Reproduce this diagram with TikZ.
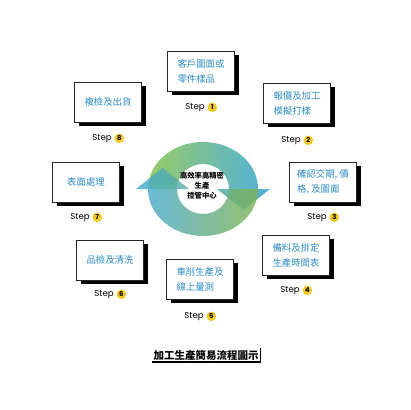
\documentclass[tikz,border=0pt]{standalone}
\usepackage{fontspec}
\newfontfamily\cjk{Noto Sans CJK TC}
\newfontfamily\stepfont{Poppins}
\usetikzlibrary{positioning,shadows}
\definecolor{boxtext}{HTML}{2C8DC4}
\definecolor{ringgreen}{HTML}{8CC657}
\definecolor{ringblue}{HTML}{3EA8D8}
\definecolor{dotyellow}{HTML}{F6C814}
\tikzset{
  stepbox/.style={draw=black!85,line width=0.6pt,fill=white,minimum width=67pt,minimum height=40pt,
    align=left,text=boxtext,font=\cjk\fontsize{9.4}{15}\selectfont,
    general shadow={fill=black,shadow xshift=4pt,shadow yshift=-4pt}},
  stepword/.style={inner sep=0pt,font=\stepfont\fontsize{8.6}{9}\selectfont},
  stepdot/.style={circle,fill=dotyellow,inner sep=0pt,minimum size=9.5pt,font=\stepfont\bfseries\fontsize{6.8}{7}\selectfont},
}
\begin{document}
\begin{tikzpicture}[x=1pt,y=-1pt]
\fill[white] (0,0) rectangle (410,410);
\useasboundingbox (0,0) rectangle (410,410);
\shade[left color=ringgreen,right color=ringblue,opacity=0.9]
  (148,189) arc[start angle=180,end angle=360,x radius=55,y radius=47] -- (270,189) -- (243.5,210) -- (217,189) -- (229,189)
  arc[start angle=360,end angle=180,x radius=26,y radius=25] -- cycle;
\shade[left color=ringblue,right color=ringgreen!90!black,opacity=0.8]
  (258,189) arc[start angle=0,end angle=180,x radius=55,y radius=47] -- (136,189) -- (162.5,168) -- (189,189) -- (177,189)
  arc[start angle=180,end angle=0,x radius=26,y radius=25] -- cycle;
\node[align=center,font=\cjk\bfseries\fontsize{7.3}{10}\selectfont] (hub) at (202,186) {高效率高精密\\生產\\控管中心};

\node[stepbox] (b1) at (201,71) {客戶圖面或\\零件樣品};
\node[stepbox] (b2) at (297,103) {報價及加工\\模擬打樣};
\node[stepbox] (b3) at (323,182) {確認交期, 價\\格, 及圖面};
\node[stepbox] (b4) at (296,255) {備料及排定\\生產時間表};
\node[stepbox] (b5) at (200,279) {車削生產及\\線上量測};
\node[stepbox] (b6) at (110,260) {品檢及清洗};
\node[stepbox] (b7) at (86,182) {表面處理};
\node[stepbox] (b8) at (108,102) {複檢及出貨};

\node[stepword] (s1) at ([xshift=-6pt,yshift=-16pt]b1.south) {Step};
\node[stepword] (s2) at ([xshift=-6pt,yshift=-17pt]b2.south) {Step};
\node[stepword] (s3) at ([xshift=-6pt,yshift=-15pt]b3.south) {Step};
\node[stepword] (s4) at ([xshift=-6pt,yshift=-15pt]b4.south) {Step};
\node[stepword] (s5) at ([xshift=-6pt,yshift=-17pt]b5.south) {Step};
\node[stepword] (s6) at ([xshift=-6pt,yshift=-14pt]b6.south) {Step};
\node[stepword] (s7) at ([xshift=-6pt,yshift=-15pt]b7.south) {Step};
\node[stepword] (s8) at ([xshift=-6pt,yshift=-16pt]b8.south) {Step};
\node[stepdot,right=2.5pt of s1] (d1) {1};
\node[stepdot,right=2.5pt of s2] (d2) {2};
\node[stepdot,right=2.5pt of s3] (d3) {3};
\node[stepdot,right=2.5pt of s4] (d4) {4};
\node[stepdot,right=2.5pt of s5] (d5) {5};
\node[stepdot,right=2.5pt of s6] (d6) {6};
\node[stepdot,right=2.5pt of s7] (d7) {7};
\node[stepdot,right=2.5pt of s8] (d8) {8};

\node[inner sep=1.5pt,font=\cjk\bfseries\fontsize{10.5}{12}\selectfont] (title) at (206,355) {加工生產簡易流程圖示};
\draw[line width=1.4pt] (title.south west) -- (title.south east) -- (title.north east);
\end{tikzpicture}
\end{document}
